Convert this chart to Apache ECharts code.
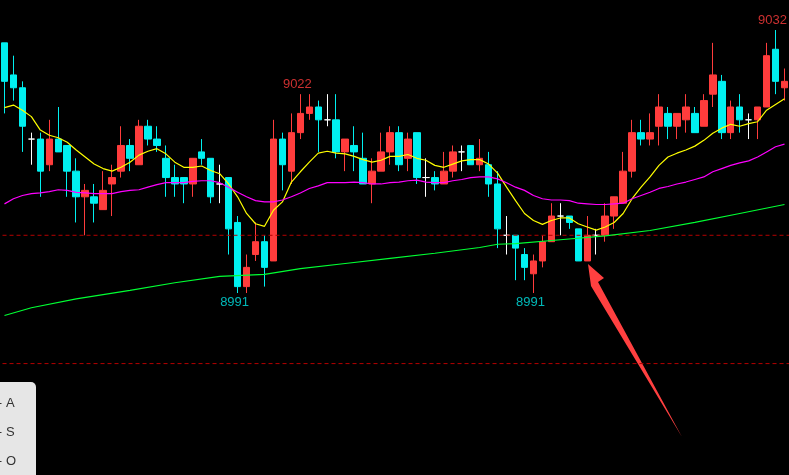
<!DOCTYPE html>
<html>
<head>
<meta charset="utf-8">
<script src="https://cdn.jsdelivr.net/npm/echarts/dist/echarts.min.js"></script>
<style>
  html, body { margin: 0; padding: 0; background: #000; }
  #kline { width: 789px; height: 475px; }
</style>
</head>
<body>
<div id="kline"></div>
<script>
// candles, one per bar (1 point = one price step)
const opens = [9030, 9025, 9023, 9015, 9015, 9011, 9015, 9014, 9010, 9006,
  9006, 9004, 9008, 9010, 9014, 9011, 9017, 9015, 9012, 9009,
  9009, 9008, 9013, 9012, 9008, 9009, 9002, 8992, 8997, 8999,
  8996, 9015, 9010, 9016, 9019, 9020, 9018, 9018, 9013, 9014,
  9012, 9008, 9010, 9013, 9016, 9012, 9016, 9009, 9009, 9008,
  9010, 9013, 9014, 9011, 9011, 9008, 9000, 9000, 8997, 8994,
  8996, 8999, 9003, 9003, 9001, 8996, 9000, 9000, 9003, 9005,
  9010, 9016, 9015, 9017, 9019, 9017, 9018, 9019, 9017, 9022,
  9024, 9016, 9020, 9018, 9018, 9020, 9029, 9023];
const closes = [9024, 9023, 9017, 9015, 9010, 9015, 9013, 9010, 9006, 9007,
  9005, 9007, 9009, 9014, 9012, 9017, 9015, 9014, 9009, 9008,
  9008, 9012, 9012, 9006, 9008, 9001, 8992, 8995, 8999, 8995,
  9015, 9011, 9016, 9019, 9020, 9018, 9018, 9013, 9015, 9013,
  9008, 9010, 9013, 9016, 9011, 9015, 9009, 9009, 9008, 9010,
  9013, 9013, 9011, 9012, 9008, 9001, 9000, 8998, 8995, 8996,
  8999, 9003, 9003, 9002, 8996, 9000, 9000, 9003, 9006, 9010,
  9016, 9015, 9016, 9020, 9017, 9019, 9020, 9016, 9021, 9025,
  9016, 9020, 9018, 9018, 9020, 9028, 9024, 9024];
const lows = [9019, 9021, 9013, 9011, 9006, 9010, 9013, 9006, 9002, 9000,
  9002, 9004, 9003, 9009, 9010, 9011, 9014, 9013, 9006, 9006,
  9005, 9006, 9011, 9005, 9005, 8997, 8991, 8991, 8996, 8992,
  8996, 9007, 9008, 9015, 9018, 9013, 9017, 9012, 9010, 9010,
  9008, 9005, 9010, 9011, 9010, 9010, 9008, 9006, 9007, 9008,
  9009, 9010, 9011, 9010, 9006, 8998, 8997, 8993, 8993, 8991,
  8995, 8999, 9000, 9001, 8996, 8996, 8997, 8999, 9001, 9005,
  9009, 9014, 9014, 9014, 9015, 9015, 9016, 9016, 9017, 9020,
  9015, 9015, 9016, 9015, 9015, 9020, 9022, 9021];
const highs = [9030, 9028, 9024, 9016, 9016, 9018, 9020, 9014, 9012, 9008,
  9008, 9010, 9011, 9017, 9015, 9018, 9018, 9017, 9014, 9011,
  9009, 9012, 9015, 9012, 9011, 9009, 9003, 8997, 9002, 9000,
  9018, 9016, 9019, 9022, 9022, 9021, 9022, 9022, 9015, 9017,
  9016, 9012, 9016, 9017, 9017, 9016, 9016, 9012, 9010, 9013,
  9014, 9014, 9014, 9015, 9013, 9010, 9003, 9000, 8998, 8997,
  9000, 9005, 9005, 9003, 9001, 9003, 9001, 9005, 9006, 9013,
  9018, 9018, 9019, 9022, 9020, 9019, 9022, 9020, 9022, 9030,
  9025, 9021, 9022, 9019, 9020, 9030, 9032, 9026];

// moving averages as drawn (yellow, magenta), read at each bar
const maShort = [9019.9, 9020.3, 9019.5, 9018.5, 9016.4, 9015.6, 9015.2, 9014.5, 9013.3, 9012.2,
  9011.1, 9010.4, 9010.0, 9010.6, 9011.4, 9012.5, 9013.1, 9013.5, 9012.7, 9011.4,
  9010.6, 9010.6, 9010.8, 9010.1, 9009.6, 9008.0, 9006.0, 9003.4, 9001.8, 9001.4,
  9003.9, 9005.2, 9008.3, 9009.9, 9011.4, 9012.8, 9013.1, 9012.8, 9012.7, 9012.3,
  9011.8, 9011.4, 9011.7, 9012.3, 9012.3, 9012.6, 9012.0, 9011.7, 9010.9, 9010.6,
  9011.1, 9011.6, 9011.8, 9011.8, 9011.1, 9009.7, 9007.5, 9005.4, 9003.4, 9002.3,
  9001.7, 9002.3, 9002.7, 9002.7, 9001.8, 9001.3, 9000.8, 9001.3, 9002.0, 9003.4,
  9005.7, 9007.5, 9009.1, 9010.9, 9012.2, 9012.8, 9013.3, 9013.9, 9014.8, 9015.9,
  9016.7, 9017.3, 9017.0, 9017.4, 9017.7, 9019.5, 9020.4, 9021.3];
const maMid = [9004.9, 9005.7, 9006.2, 9006.5, 9006.6, 9006.8, 9007.1, 9007.0, 9006.7, 9006.6,
  9006.5, 9006.5, 9006.5, 9006.8, 9007.0, 9007.1, 9007.5, 9007.9, 9008.2, 9008.2,
  9008.2, 9008.4, 9008.5, 9008.5, 9008.2, 9007.5, 9006.7, 9006.0, 9005.4, 9005.2,
  9005.2, 9005.5, 9006.0, 9006.6, 9007.3, 9007.7, 9008.2, 9008.2, 9008.2, 9008.3,
  9008.2, 9008.0, 9008.0, 9008.2, 9008.3, 9008.5, 9008.6, 9008.3, 9008.2, 9008.2,
  9008.5, 9008.7, 9009.0, 9009.1, 9009.1, 9008.8, 9008.2, 9007.5, 9007.0, 9006.2,
  9005.7, 9005.5, 9005.5, 9005.4, 9005.0, 9004.9, 9004.8, 9004.8, 9004.9, 9005.0,
  9005.7, 9006.2, 9006.7, 9007.3, 9007.6, 9008.0, 9008.3, 9008.7, 9009.1, 9009.9,
  9010.4, 9010.9, 9011.3, 9011.6, 9012.2, 9013.0, 9013.8, 9014.2];
// long average (green), read at a few bars only: [bar, value]
const maLong = [[0, 8987.5], [3, 8988.7], [8, 8990.1], [14, 8991.4], [19, 8992.6],
  [24, 8993.6], [29, 8993.9], [33, 8994.8], [38, 8995.6], [43, 8996.4],
  [48, 8997.2], [53, 8998.1], [55, 8998.6], [57, 8998.7], [62, 8999.3],
  [67, 8999.9], [72, 9000.75], [77, 9002.0], [82, 9003.4], [87, 9004.8]];

// price marks shown on the chart
const highMarks = [[33, 9022], [86, 9032]];
const lowMarks = [[26, 8991], [59, 8991]];
const levels = [9000, 8980];

const upColor = "#ff3c3c";
const downColor = "#00f0f0";

let bars = [];
let kData = [];
for (let i = 0; i < opens.length; i++) {
  bars.push(i);
  kData.push([opens[i], closes[i], lows[i], highs[i]]);
}

// dashed price levels, run past both ends and clipped by the grid
let levelSeries = levels.map(v => ({
  type: "line",
  data: [[-1, v], [bars.length, v]],
  symbol: "none",
  silent: true,
  clip: true,
  lineStyle: { color: "#b40000", type: [4, 3], width: 1 }
}));

let myChart = echarts.init(document.getElementById("kline"));
let option = {
  backgroundColor: "#000",
  animation: false,
  grid: { left: 0, top: 0, width: 792, height: 475 },
  xAxis: {
    type: "category",
    data: bars,
    show: false,
    boundaryGap: true
  },
  yAxis: {
    type: "value",
    min: 8962.63,
    max: 9036.68,
    show: false,
    splitLine: { show: false }
  },
  series: levelSeries.concat([
    {
      type: "candlestick",
      data: kData,
      barWidth: 7,
      itemStyle: {
        color: upColor,
        color0: downColor,
        borderColor: upColor,
        borderColor0: downColor,
        borderColorDoji: "#ffffff",
        borderWidth: 1
      }
    },
    {
      type: "line",
      data: maShort,
      symbol: "none",
      lineStyle: { color: "#ffff00", width: 1.2 },
      silent: true
    },
    {
      type: "line",
      data: maMid,
      symbol: "none",
      lineStyle: { color: "#ff00ff", width: 1.2 },
      silent: true
    },
    {
      type: "line",
      data: maLong,
      symbol: "none",
      lineStyle: { color: "#00ff33", width: 1.2 },
      silent: true
    },
    {
      type: "scatter",
      data: highMarks,
      symbolSize: 0,
      silent: true,
      label: {
        show: true,
        position: "top",
        distance: 3,
        offset: [-3, 0],
        formatter: p => p.value[1],
        color: "#ff3c3c",
        fontSize: 13,
        fontFamily: "Liberation Sans"
      }
    },
    {
      type: "scatter",
      data: lowMarks,
      symbolSize: 0,
      silent: true,
      label: {
        show: true,
        position: "bottom",
        distance: 3,
        offset: [-3, 0],
        formatter: p => p.value[1],
        color: "#00e5e5",
        fontSize: 13,
        fontFamily: "Liberation Sans"
      }
    }
  ]),
  graphic: [
    {
      type: "polygon",
      silent: true,
      shape: {
        points: [[588, 264], [604, 278], [598, 282], [682, 437], [591, 286]]
      },
      style: { fill: "#ff4040" }
    },
    {
      type: "rect",
      silent: true,
      shape: { x: -6, y: 382, width: 42, height: 100, r: [0, 5, 0, 0] },
      style: { fill: "#e6e6e6" }
    },
    { type: "text", left: 6, top: 397, style: { text: "A", fill: "#333", font: "13px Liberation Sans" } },
    { type: "text", left: 6, top: 426, style: { text: "S", fill: "#333", font: "13px Liberation Sans" } },
    { type: "text", left: 6, top: 455, style: { text: "O", fill: "#333", font: "13px Liberation Sans" } },
    { type: "rect", shape: { x: 0, y: 403, width: 1.5, height: 1 }, style: { fill: "#333" } },
    { type: "rect", shape: { x: 0, y: 432, width: 1.5, height: 1 }, style: { fill: "#333" } },
    { type: "rect", shape: { x: 0, y: 461, width: 1.5, height: 1 }, style: { fill: "#333" } }
  ]
};
myChart.setOption(option);
window.onresize = function() {
  myChart.resize();
};
</script>
</body>
</html>
